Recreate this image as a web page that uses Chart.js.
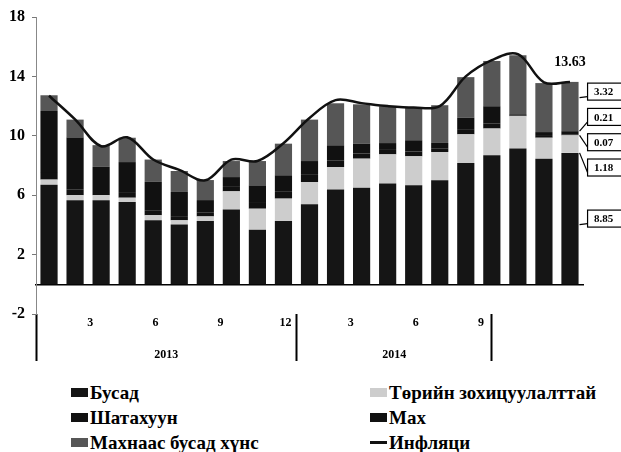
<!DOCTYPE html>
<html>
<head>
<meta charset="utf-8">
<script src="https://cdn.jsdelivr.net/npm/chart.js@4.4.1/dist/chart.umd.min.js"></script>
<style>
  body { margin: 0; background: #fff; }
  #wrap { position: relative; width: 621px; height: 452px; font-family: "Liberation Serif", serif; }
  #chartBox { position: absolute; left: 0; top: 0; width: 621px; height: 368px; }
  #legend {
    position: absolute; left: 71px; top: 380px;
    display: grid; grid-template-columns: 299px 250px;
    font-weight: bold; font-size: 19px; line-height: 25px; color: #000;
  }
  .legend-item { display: flex; align-items: center; white-space: nowrap; }
  .legend-mark { width: 17px; height: 9px; margin-right: 2px; }
  .legend-mark.line { height: 3px; }
</style>
</head>
<body>
<div id="wrap">
  <div id="chartBox"><canvas id="cpiChart"></canvas></div>
  <div id="legend"></div>
</div>
<script>
const months = [
  "2013-01", "2013-02", "2013-03", "2013-04", "2013-05", "2013-06", "2013-07",
  "2013-08", "2013-09", "2013-10", "2013-11", "2013-12", "2014-01", "2014-02",
  "2014-03", "2014-04", "2014-05", "2014-06", "2014-07", "2014-08", "2014-09",
];
const other = [6.71, 5.66, 5.66, 5.54, 4.31, 4.02, 4.26, 5.03, 3.68, 4.26, 5.39, 6.38, 6.51, 6.78, 6.67, 7.00, 8.17, 8.69, 9.14, 8.46, 8.85];
const regulated = [0.34, 0.34, 0.34, 0.29, 0.34, 0.29, 0.31, 1.23, 1.41, 1.51, 1.50, 1.52, 1.95, 1.97, 1.95, 1.91, 1.93, 1.80, 2.18, 1.41, 1.18];
const fuel = [0.45, 0.40, 0.35, 0.38, 0.30, 0.28, 0.25, 0.30, 0.45, 0.50, 0.48, 0.45, 0.35, 0.30, 0.32, 0.22, 0.30, 0.35, 0.05, 0.12, 0.07];
const meat = [4.17, 3.48, 1.56, 2.02, 1.95, 1.63, 0.85, 0.66, 1.12, 1.07, 0.93, 1.01, 0.66, 0.46, 0.76, 0.39, 0.82, 1.15, 0.08, 0.26, 0.21];
const foodExMeat = [1.06, 1.21, 1.46, 1.64, 1.50, 1.41, 1.35, 1.08, 1.64, 2.13, 2.79, 2.83, 2.65, 2.47, 2.20, 2.54, 2.73, 3.05, 3.97, 3.30, 3.32];
const inflation = [12.7, 11.1, 9.3, 9.9, 8.4, 7.7, 7.0, 8.4, 8.3, 9.5, 11.2, 12.4, 12.2, 12.0, 11.9, 12.0, 14.0, 15.1, 15.5, 13.6, 13.63];

const yTicks = [-2, 2, 6, 10, 14, 18];
const monthTicks = ["3", "6", "9", "12", "3", "6", "9"];
const monthTickIndex = [3, 6, 9, 12, 15, 18, 21];
const years = ["2013", "2014"];
const yearMonths = [12, 9];

const FONT = '"Liberation Serif", serif';

// bottom axis: month numbers, year names and year separators
const bottomLabels = new Map();
const edgeValues = new Set([0]);
let yearStart = 0;
yearMonths.forEach((n, i) => {
  bottomLabels.set(yearStart + n / 2, ["", years[i]]);
  yearStart += n;
  edgeValues.add(yearStart);
});
monthTickIndex.forEach((m, i) => bottomLabels.set(m - 0.5, monthTicks[i]));
const bottomTickValues = [...edgeValues, ...bottomLabels.keys()].sort((a, b) => a - b);

function spreadLabels(centres, gap) {
  const groups = centres.map((c) => ({ start: c, count: 1, sum: c }));
  let merged = true;
  while (merged) {
    merged = false;
    for (let i = 0; i < groups.length - 1; i++) {
      const a = groups[i];
      const b = groups[i + 1];
      if (a.start + a.count * gap > b.start) {
        const count = a.count + b.count;
        const sum = a.sum + b.sum;
        groups.splice(i, 2, { start: sum / count - ((count - 1) * gap) / 2, count, sum });
        merged = true;
        break;
      }
    }
  }
  return groups.flatMap((g) => Array.from({ length: g.count }, (_, k) => g.start + k * gap));
}

const calloutPlugin = {
  id: "callouts",
  afterDatasetsDraw(chart) {
    const { ctx } = chart;
    const last = months.length - 1;
    const items = [];
    let linePoint = null;
    chart.data.datasets.forEach((ds, i) => {
      const el = chart.getDatasetMeta(i).data[last];
      if (ds.type === "line") {
        linePoint = el;
        return;
      }
      const top = Math.min(el.y, el.base);
      const bottom = Math.max(el.y, el.base);
      items.push({ value: ds.data[last], top, bottom, mid: (top + bottom) / 2, right: el.x + el.width / 2 });
    });
    items.sort((a, b) => a.mid - b.mid);
    const centres = spreadLabels(items.map((it) => it.mid), 25.3);

    ctx.save();
    ctx.font = `bold 11px ${FONT}`;
    ctx.textAlign = "center";
    ctx.textBaseline = "middle";
    items.forEach((it, i) => {
      const y = centres[i];
      const boxLeft = it.right + 9;
      const boxH = 17;
      ctx.strokeStyle = "#000";
      ctx.lineWidth = 1.2;
      ctx.beginPath();
      ctx.moveTo(boxLeft, y + 5);
      ctx.lineTo(it.right + 1, Math.min(Math.max(y + 6, it.top), it.bottom));
      ctx.stroke();
      ctx.fillStyle = "#fff";
      ctx.fillRect(boxLeft, y - boxH / 2, 40, boxH);
      ctx.strokeRect(boxLeft, y - boxH / 2, 40, boxH);
      ctx.fillStyle = "#000";
      ctx.fillText(it.value.toFixed(2), boxLeft + 16, y + 1);
    });
    if (linePoint) {
      ctx.font = `bold 14px ${FONT}`;
      ctx.fillText(inflation[last].toFixed(2), linePoint.x, linePoint.y - 20);
    }
    ctx.restore();
  },
};

function barSet(label, data, color) {
  return {
    type: "bar",
    label,
    data,
    backgroundColor: color,
    borderWidth: 0,
    stack: "cpi",
    order: 1,
    barPercentage: 0.66,
    categoryPercentage: 1,
  };
}

function renderLegend(chart) {
  const box = document.getElementById("legend");
  box.innerHTML = "";
  chart.data.datasets.forEach((ds) => {
    const item = document.createElement("div");
    item.className = "legend-item";
    const isLine = ds.type === "line";
    item.innerHTML = `
      <span class="legend-mark ${isLine ? "line" : ""}" style="background:${isLine ? ds.borderColor : ds.backgroundColor}"></span>
      <span>${ds.label}</span>
    `;
    box.appendChild(item);
  });
}

const chart = new Chart(document.getElementById("cpiChart"), {
  data: {
    labels: months,
    datasets: [
      barSet("Бусад", other, "#151515"),
      barSet("Төрийн зохицуулалттай", regulated, "#cdcdcd"),
      barSet("Шатахуун", fuel, "#111111"),
      barSet("Мах", meat, "#111111"),
      barSet("Махнаас бусад хүнс", foodExMeat, "#565656"),
      {
        type: "line",
        label: "Инфляци",
        data: inflation,
        borderColor: "#111111",
        borderWidth: 2.5,
        pointRadius: 0,
        tension: 0.35,
        stack: "line",
        order: 0,
      },
    ],
  },
  options: {
    responsive: true,
    maintainAspectRatio: false,
    animation: false,
    layout: { padding: { top: 17, right: 38, left: 0, bottom: 0 } },
    plugins: { legend: { display: false }, tooltip: { enabled: false } },
    scales: {
      x: {
        stacked: true,
        position: { y: 0 },
        ticks: { display: false },
        grid: { display: false, drawTicks: false },
        border: { color: "#000", width: 1.5 },
      },
      x2: {
        type: "linear",
        position: "bottom",
        min: 0,
        max: 25.2,
        afterBuildTicks: (scale) => {
          scale.ticks = bottomTickValues.map((value) => ({ value }));
        },
        afterFit: (scale) => {
          scale.height = 54;
        },
        grid: {
          drawOnChartArea: false,
          tickLength: 47,
          tickWidth: 2,
          tickColor: (ctx) => (ctx.tick && edgeValues.has(ctx.tick.value) ? "#000" : "rgba(0,0,0,0)"),
        },
        border: { display: false },
        ticks: {
          autoSkip: false,
          maxRotation: 0,
          padding: -54,
          color: "#000",
          font: { family: FONT, size: 12, weight: "bold", lineHeight: "32px" },
          callback: (value) => bottomLabels.get(value) ?? "",
        },
      },
      y: {
        stacked: true,
        min: -2,
        max: 18,
        afterBuildTicks: (scale) => {
          scale.ticks = yTicks.map((value) => ({ value }));
        },
        afterFit: (scale) => {
          scale.width = 36;
        },
        grid: { drawOnChartArea: false, tickLength: 4, color: "#777" },
        border: { color: "#888", dash: [1, 2], width: 1 },
        ticks: {
          padding: 7,
          color: "#000",
          font: { family: FONT, size: 16, weight: "bold" },
        },
      },
    },
  },
  plugins: [calloutPlugin],
});

renderLegend(chart);
</script>
</body>
</html>
